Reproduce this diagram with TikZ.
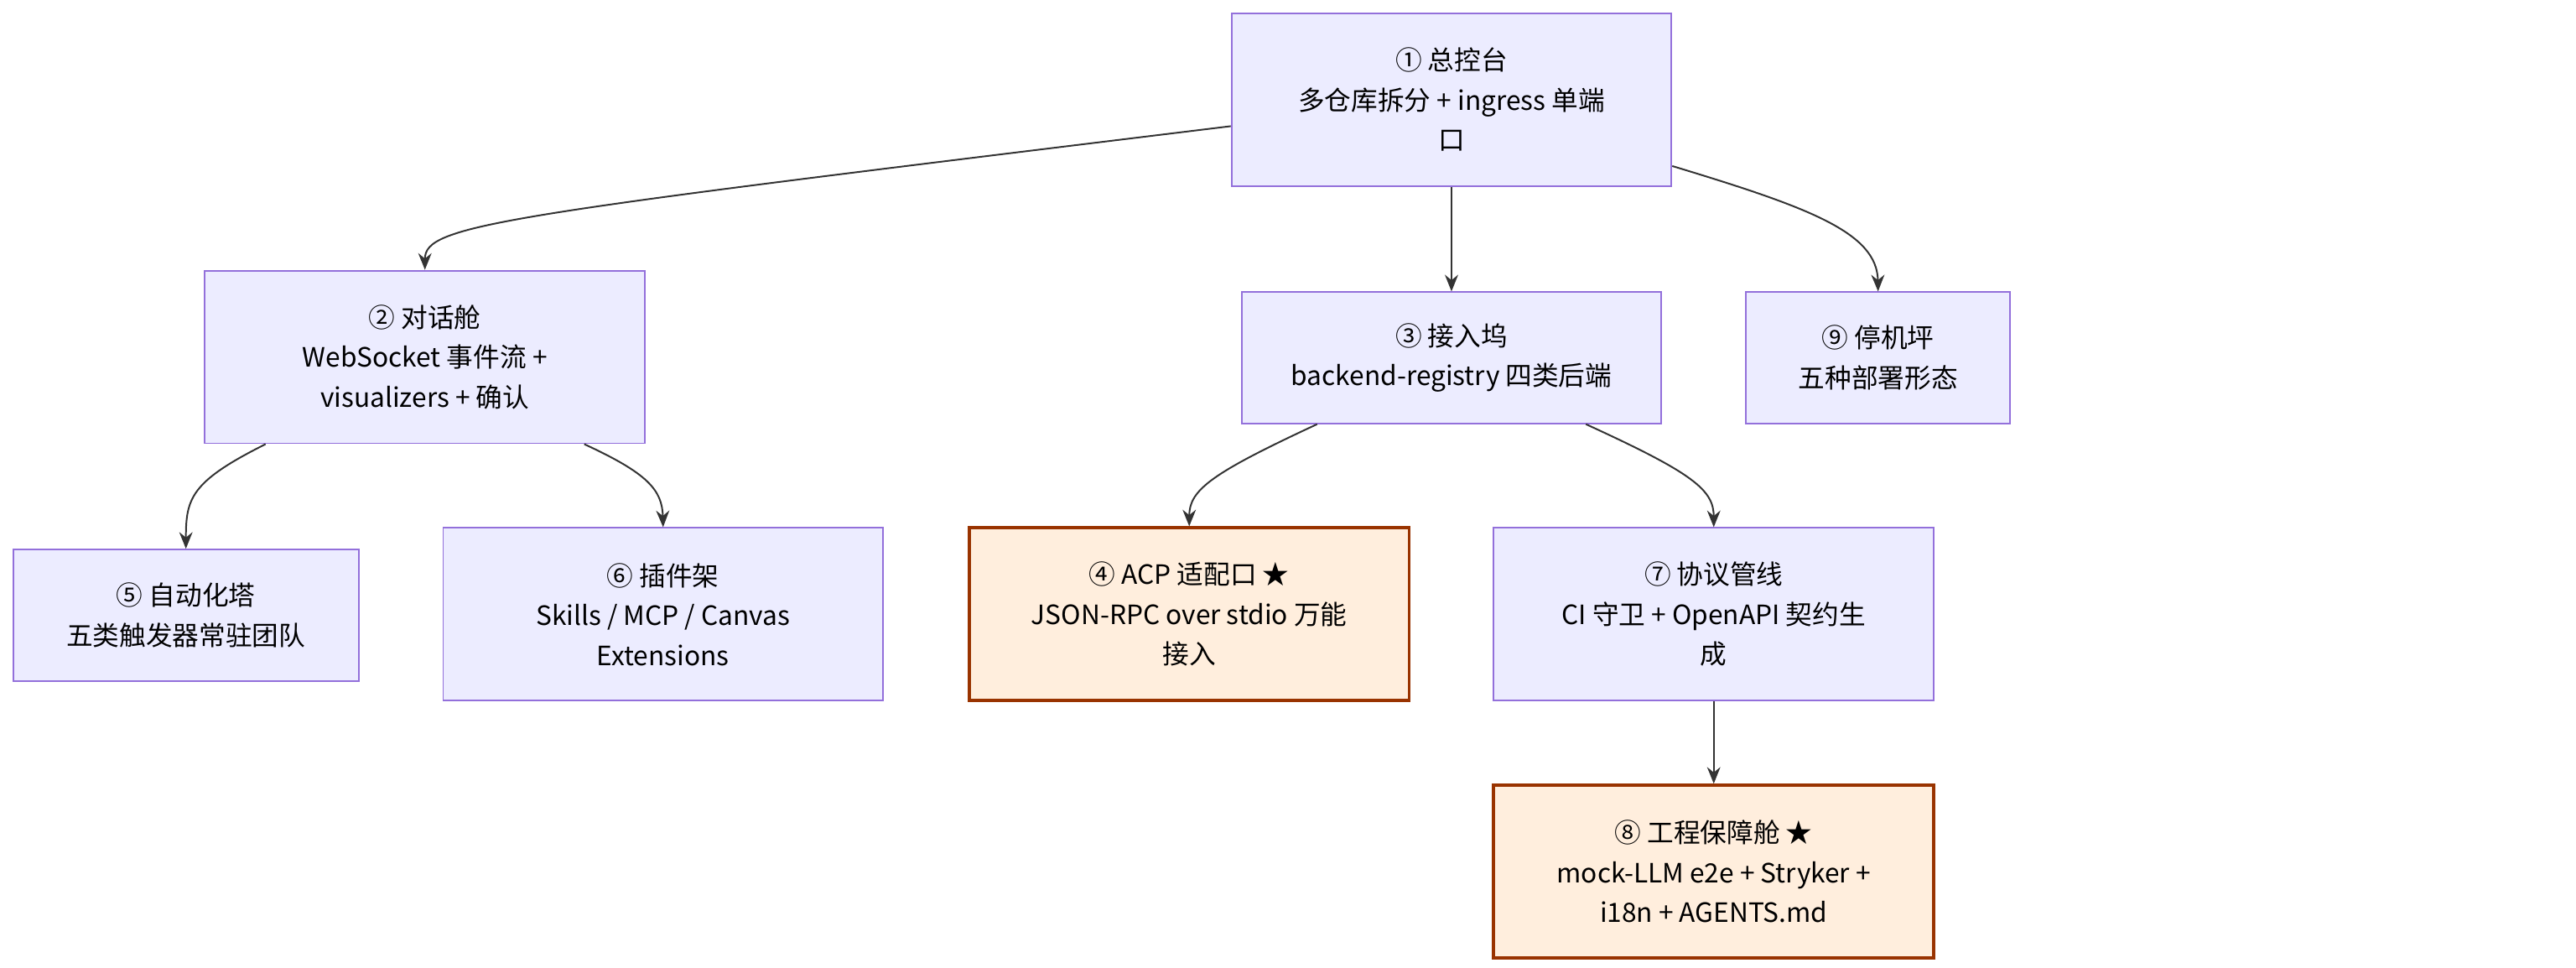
\documentclass[tikz,border=0pt]{standalone}
\usepackage{fontspec}
\setmainfont{Noto Sans CJK SC}
\usetikzlibrary{arrows.meta}
\definecolor{boxfill}{HTML}{ECECFF}
\definecolor{boxline}{HTML}{9370DB}
\definecolor{hotfill}{HTML}{FFEEDD}
\definecolor{hotline}{HTML}{993300}
\definecolor{edge}{HTML}{333333}
\tikzset{block/.style = {draw=boxline, fill=boxfill, line width=0.5pt, rectangle, align=center,
                         font=\fontsize{8pt}{12pt}\selectfont, minimum width=132.5pt, minimum height=52pt},
         small/.style = {block, minimum height=39.5pt},
         star/.style = {block, draw=hotline, fill=hotfill, line width=1pt},
         link/.style = {draw=edge, line width=0.5pt, -{Stealth[length=5pt,width=4pt]}}}

\begin{document}
\begin{tikzpicture}[x=0.5pt,y=-0.5pt]
    \useasboundingbox(0,0)rectangle(1552,583);
    \node[block](zk)at(874.5,60){① 总控台\\多仓库拆分 + ingress 单端\\口};
    \node[block](dh)at(256,215){② 对话舱\\WebSocket 事件流 +\\visualizers + 确认};
    \node[small, minimum width=126.5pt](jr)at(874.5,215.5){③ 接入坞\\backend-registry 四类后端};
    \node[small, minimum width=79.5pt](tj)at(1131.5,215.5){⑨ 停机坪\\五种部署形态};
    \node[small, minimum width=104pt](zd)at(112,370.5){⑤ 自动化塔\\五类触发器常驻团队};
    \node[block](cj)at(399.5,370){⑥ 插件架\\Skills / MCP / Canvas\\Extensions};
    \node[star](acp)at(716.5,370){④ ACP 适配口 ★\\JSON-RPC over stdio 万能\\接入};
    \node[block](xy)at(1032.5,370){⑦ 协议管线\\CI 守卫 + OpenAPI 契约生\\成};
    \node[star](gc)at(1032.5,525){⑧ 工程保障舱 ★\\mock-LLM e2e + Stryker +\\i18n + AGENTS.md};
    \draw[link]([shift={(0,16)}]zk.west)..controls(300,130)and(256,135)..(dh.north);
    \draw[link](zk.south)--(jr.north);
    \draw[link]([shift={(0,40)}]zk.east)..controls(1090,125)and(1131,140)..(tj.north);
    \draw[link]([shift={(-96,0)}]dh.south)..controls(115,290)and(112,300)..(zd.north);
    \draw[link]([shift={(96,0)}]dh.south)..controls(390,285)and(399,295)..(cj.north);
    \draw[link]([shift={(-81,0)}]jr.south)..controls(730,285)and(716.5,295)..(acp.north);
    \draw[link]([shift={(81,0)}]jr.south)..controls(1020,285)and(1032.5,295)..(xy.north);
    \draw[link](xy.south)--(gc.north);
\end{tikzpicture}
\end{document}
